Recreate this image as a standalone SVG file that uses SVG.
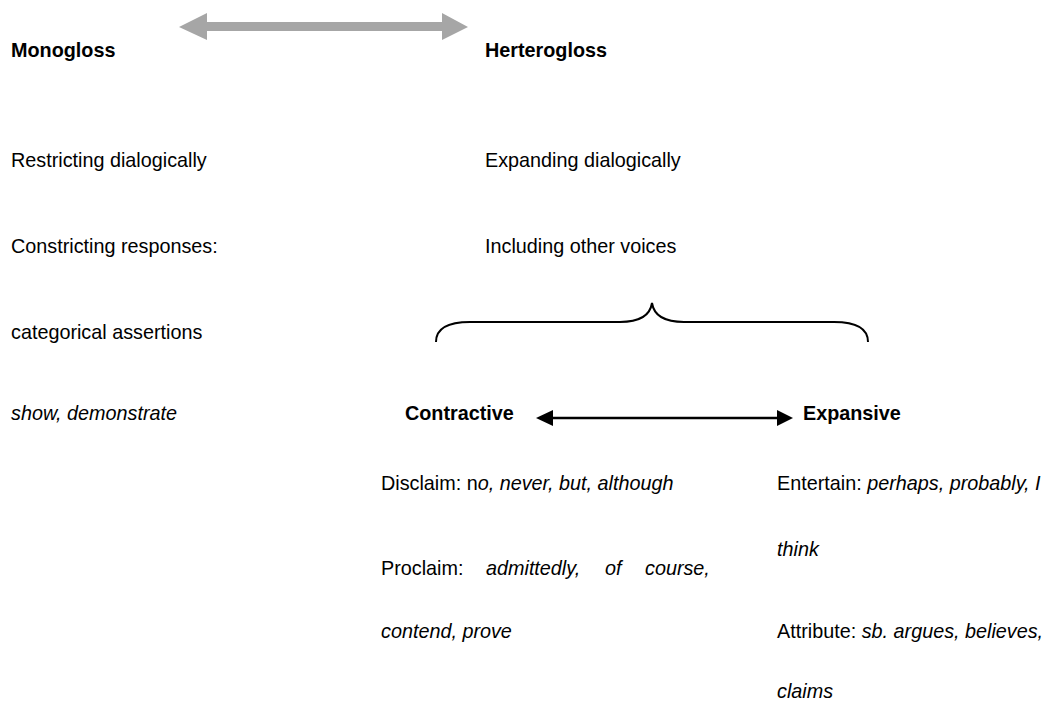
<svg xmlns="http://www.w3.org/2000/svg" width="1060" height="702" viewBox="0 0 1060 702">
  <style>
    text { font-family: "Liberation Sans", Arial, sans-serif; font-size: 19.8px; fill: #000; }
    .b { font-weight: bold; }
    .i { font-style: italic; }
    .grey { fill: #a6a6a6; }
    .line { stroke: #000; stroke-width: 2; fill: none; }
  </style>
  <rect width="1060" height="702" fill="#fff"/>

  <g id="connectors">
    <!-- grey double arrow between the two poles -->
    <polygon class="grey" points="179,27 207,13 207,22 442,22 442,13 468,27 442,40 442,31 207,31 207,40"/>
    <!-- curly brace grouping the heterogloss options -->
    <path class="line" d="M436,342 C436,330 446,322 470,322 L620,322 C640,322 650,316 652,303 C654,316 664,322 684,322 L834,322 C858,322 868,330 868,342"/>
    <!-- contractive / expansive axis -->
    <line x1="553" y1="418" x2="777" y2="418" stroke="#000" stroke-width="2.5"/>
    <polygon points="536,418 553,410 553,426"/>
    <polygon points="793,418 777,410 777,426"/>
  </g>

  <g id="monogloss">
    <text class="b" x="11" y="57">Monogloss</text>
    <text x="11" y="167">Restricting dialogically</text>
    <text x="11" y="253">Constricting responses:</text>
    <text x="11" y="339">categorical assertions</text>
    <text class="i" x="11" y="420">show, demonstrate</text>
  </g>

  <g id="heterogloss">
    <text class="b" x="485" y="57">Herterogloss</text>
    <text x="485" y="167">Expanding dialogically</text>
    <text x="485" y="253">Including other voices</text>
  </g>

  <g id="contractive">
    <text class="b" x="405" y="420">Contractive</text>
    <text x="381" y="490">Disclaim: n<tspan class="i">o, never, but, although</tspan></text>
    <text y="575"><tspan x="381">Proclaim:</tspan><tspan class="i" x="486">admittedly,</tspan><tspan class="i" x="605">of</tspan><tspan class="i" x="645">course,</tspan></text>
    <text class="i" x="381" y="638">contend, prove</text>
  </g>

  <g id="expansive">
    <text class="b" x="803" y="420">Expansive</text>
    <text x="777" y="490">Entertain: <tspan class="i">perhaps, probably, I</tspan></text>
    <text class="i" x="777" y="556">think</text>
    <text x="777" y="638">Attribute: <tspan class="i">sb. argues, believes,</tspan></text>
    <text class="i" x="777" y="698">claims</text>
  </g>
</svg>
